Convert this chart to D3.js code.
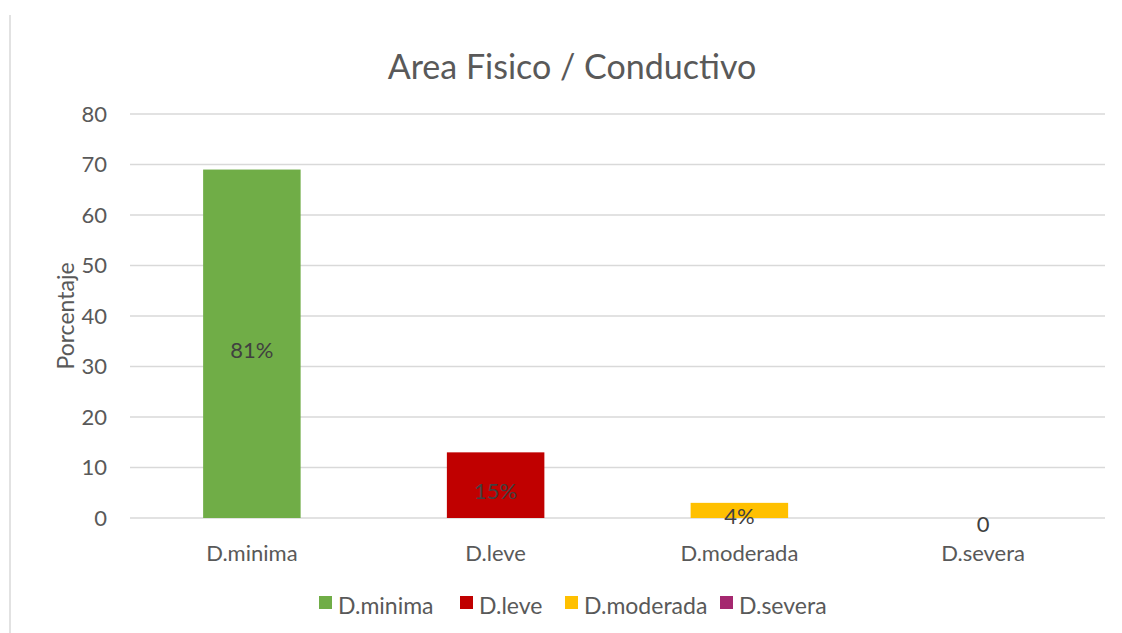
<!DOCTYPE html>
<html>
<head>
<meta charset="utf-8">
<script src="https://cdn.jsdelivr.net/npm/d3@7"></script>
<style>
  body { margin: 0; background: #fff; }
  svg { display: block; font-family: Lato, "Open Sans", sans-serif; }
</style>
</head>
<body>
<svg id="chart" width="1122" height="633"></svg>
<script>
var categories = ["D.minima", "D.leve", "D.moderada", "D.severa"];
var values = [69, 13, 3, 0];
var valueLabels = ["81%", "15%", "4%", "0"];
var barColors = ["#70ad47", "#c00000", "#ffc000", "#a5286f"];
var yTicks = [0, 10, 20, 30, 40, 50, 60, 70, 80];

var svg = d3.select("#chart");
var margin = {left: 130, right: 17, top: 114, bottom: 115};
var width = 1122, height = 633;

// frame line on the left
svg.append("line")
    .attr("x1", 10).attr("x2", 10)
    .attr("y1", 15).attr("y2", height)
    .attr("stroke", "#d9d9d9").attr("stroke-width", 1.5);

var x = d3.scaleBand()
    .domain(categories)
    .range([margin.left, width - margin.right]);

var y = d3.scaleLinear()
    .domain([0, 80])
    .range([height - margin.bottom, margin.top]);

var barW = x.bandwidth() * 0.4;

// gridlines
svg.append("g").selectAll("line")
    .data(yTicks)
    .join("line")
    .attr("x1", margin.left).attr("x2", width - margin.right)
    .attr("y1", function(d) { return y(d); })
    .attr("y2", function(d) { return y(d); })
    .attr("stroke", "#d9d9d9").attr("stroke-width", 1.3);

// y axis labels
var yAxis = d3.axisLeft(y).tickValues(yTicks).tickSize(0).tickPadding(0);
var gy = svg.append("g")
    .attr("transform", "translate(107,0)")
    .call(yAxis);
gy.select(".domain").remove();
gy.selectAll("text")
    .attr("fill", "#595959")
    .style("font-size", "22px")
    .style("font-family", "Lato, sans-serif");

// bars
svg.append("g").selectAll("rect")
    .data(values)
    .join("rect")
    .attr("x", function(d, i) { return x(categories[i]) + x.bandwidth() / 2 - barW / 2; })
    .attr("y", function(d) { return y(d); })
    .attr("width", barW)
    .attr("height", function(d) { return y(0) - y(d); })
    .attr("fill", function(d, i) { return barColors[i]; });

// data labels
svg.append("g").selectAll("text")
    .data(values)
    .join("text")
    .attr("x", function(d, i) { return x(categories[i]) + x.bandwidth() / 2; })
    .attr("y", function(d) { return (y(d) + y(0)) / 2 + 14; })
    .attr("text-anchor", "middle")
    .attr("fill", "#404040")
    .style("font-size", "22px")
    .text(function(d, i) { return valueLabels[i]; });

// x axis labels
var xAxis = d3.axisBottom(x).tickSize(0).tickPadding(0);
var gx = svg.append("g")
    .attr("transform", "translate(0,545)")
    .call(xAxis);
gx.select(".domain").remove();
gx.selectAll("text")
    .attr("fill", "#595959")
    .style("font-size", "22px")
    .style("font-family", "Lato, sans-serif");

// title
svg.append("text")
    .attr("x", 572).attr("y", 79)
    .attr("text-anchor", "middle")
    .attr("fill", "#595959")
    .style("font-size", "34px")
    .text("Area Fisico / Conductivo");

// y axis title
svg.append("text")
    .attr("transform", "translate(74,316) rotate(-90)")
    .attr("text-anchor", "middle")
    .attr("fill", "#595959")
    .style("font-size", "23px")
    .text("Porcentaje");

// legend
var legendX = [319, 460, 565, 720];
var leg = svg.append("g").selectAll("g")
    .data(categories)
    .join("g")
    .attr("transform", function(d, i) { return "translate(" + legendX[i] + ",596)"; });
leg.append("rect")
    .attr("width", 13).attr("height", 13)
    .attr("fill", function(d, i) { return barColors[i]; });
leg.append("text")
    .attr("x", 19).attr("y", 18)
    .attr("fill", "#595959")
    .style("font-size", "23px")
    .text(function(d) { return d; });
</script>
</body>
</html>
